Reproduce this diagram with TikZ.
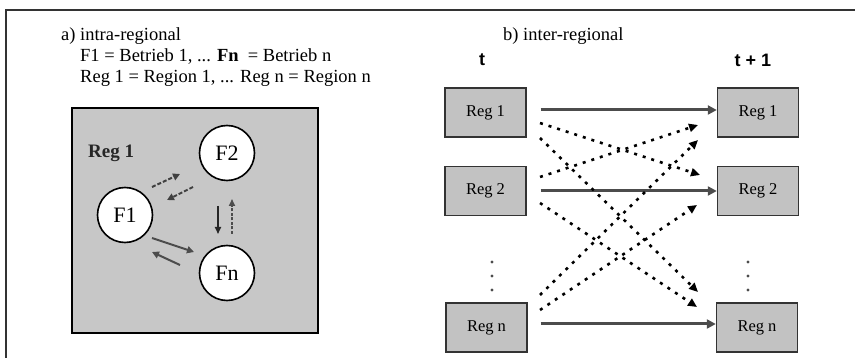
\documentclass[tikz,border=0pt]{standalone}
\usepackage{fontspec}
\setmainfont{Liberation Serif}
\newfontfamily\sansf{Liberation Sans}
\usetikzlibrary{arrows.meta}
\begin{document}
\begin{tikzpicture}[x=1pt,y=-1pt,
  txt/.style={anchor=west,inner sep=0pt,font=\fontsize{18.5}{21}\selectfont},
  firm/.style={circle,draw=black,line width=1.6pt,fill=white,minimum size=55pt,inner sep=0pt,font=\fontsize{22}{24}\selectfont},
  regbox/.style={draw=black!80,line width=1.4pt,fill=black!24,minimum width=81pt,minimum height=49pt,inner sep=0pt,font=\fontsize{16.5}{18}\selectfont},
  solidarr/.style={draw=black!70,line width=3pt,-{Triangle[length=9pt,width=9pt]}},
  dotarr/.style={draw=black,line width=2.6pt,dash pattern=on 3pt off 6pt,-{Triangle[length=9pt,width=8pt]}},
  smallsolid/.style={draw=black!70,line width=2pt,-{Triangle[length=7pt,width=7pt]}},
  smalldash/.style={draw=black!75,line width=2pt,dash pattern=on 4pt off 2pt,-{Triangle[length=7pt,width=7pt]}},
  hdr/.style={inner sep=0pt,font=\sansf\bfseries\fontsize{18}{20}\selectfont}
]
\useasboundingbox (0,0) rectangle (855,358);
% frame
\draw[line width=1.5pt,black!80] (6,358) -- (6,10) -- (855,10);
% texts left
\node[txt] (ta) at (61,36) {a) intra-regional};
\node[txt] (tf) at (80,57) {F1 = Betrieb 1, ... \textbf{Fn}\ \ = Betrieb n};
\node[txt] (tr) at (80,78) {Reg 1 = Region 1, ... Reg n = Region n};
% region square
\draw[line width=1.6pt,fill=black!22] (72,108) rectangle (318,333);
\node[anchor=west,inner sep=0pt,font=\fontsize{19}{21}\selectfont\bfseries,text=black!85] (r1) at (88,153) {Reg 1};
\node[firm] (F2) at (227,153) {F2};
\node[firm] (F1) at (125,215) {F1};
\node[firm] (Fn) at (227,273) {Fn};
\coordinate (a1s) at (152,187); \coordinate (a1e) at (180,174);
\coordinate (a2s) at (193,187); \coordinate (a2e) at (167,200);
\coordinate (a3s) at (152,238); \coordinate (a3e) at (194,252);
\coordinate (a4s) at (180,265); \coordinate (a4e) at (152,252);
\coordinate (a5s) at (218,206); \coordinate (a5e) at (218,234);
\coordinate (a6s) at (232,234); \coordinate (a6e) at (232,199);
\draw[smalldash] (a1s) -- (a1e);
\draw[smalldash] (a2s) -- (a2e);
\draw[smallsolid] (a3s) -- (a3e);
\draw[smallsolid] (a4s) -- (a4e);
\draw[draw=black!85,line width=1.6pt,-{Triangle[length=7pt,width=6pt]}] (a5s) -- (a5e);
\draw[draw=black!70,line width=1.6pt,dash pattern=on 3pt off 1.5pt,-{Triangle[length=7pt,width=6pt]}] (a6s) -- (a6e);
% right part
\node[txt] (tb) at (503,36) {b) inter-regional};
\node[hdr] (tt) at (482,60) {t};
\node[hdr] (tt1) at (753,60) {t + 1};
\node[regbox] (L1) at (485.5,112.5) {Reg 1};
\node[regbox] (L2) at (485.5,191) {Reg 2};
\node[regbox] (Ln) at (486.5,327.5) {Reg n};
\node[regbox] (R1) at (758,112.5) {Reg 1};
\node[regbox] (R2) at (758,191) {Reg 2};
\node[regbox] (Rn) at (757,327.5) {Reg n};
% vertical dots
\foreach \yy in {262,276,290} {
  \fill[black!70] (492,\yy) circle (1.6pt);
  \fill[black!70] (748,\yy) circle (1.6pt);
}
% solid arrows
\draw[solidarr] (L1.east|-0,110) ++(14,0) -- (R1.west|-0,110) ;
\draw[solidarr] (L2.east|-0,191) ++(14,0) -- (R2.west|-0,191);
\draw[solidarr] (Ln.east|-0,324) ++(13,0) -- (Rn.west|-0,324);
% dotted arrows
\draw[dotarr] (540,123) -- (700,175);
\draw[dotarr] (540,138) -- (698,292);
\draw[dotarr] (540,177) -- (698,125);
\draw[dotarr] (540,203) -- (697,307);
\draw[dotarr] (540,295) -- (698,140);
\draw[dotarr] (540,310) -- (697,205);
\end{tikzpicture}
\end{document}
